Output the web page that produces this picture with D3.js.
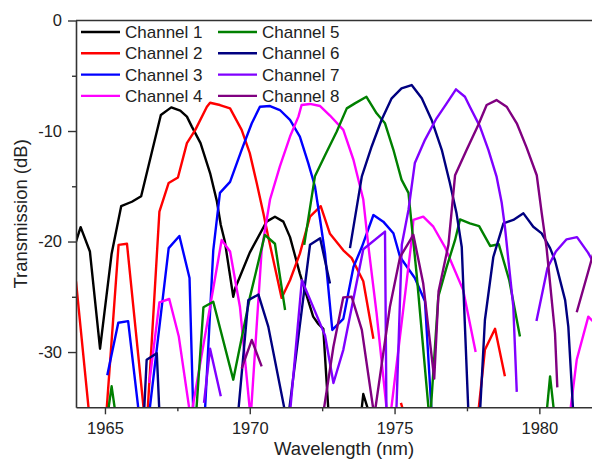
<!DOCTYPE html>
<html>
<head>
<meta charset="utf-8">
<script src="https://cdn.jsdelivr.net/npm/d3@7"></script>
<style>
  body { margin: 0; background: #fff; }
  svg { display: block; font-family: "Liberation Sans", Arial, sans-serif; }
</style>
</head>
<body>
<div id="chart"></div>
<script>
// Transmission spectra of 8 channels.
// Each series is a list of [wavelength nm, dB]; null marks a gap in the trace.
const channelNames = ["Channel 1", "Channel 2", "Channel 3", "Channel 4",
                      "Channel 5", "Channel 6", "Channel 7", "Channel 8"];
const channelColors = ["#000000", "#ff0000", "#0000ff", "#ff00ff",
                       "#008000", "#000080", "#8000ff", "#800080"];

const ch1 = [[1964.0,-20.0],[1964.16,-18.7],[1964.48,-20.9],[1964.83,-29.7],[1965.23,-21.1],[1965.56,-16.8],
  [1965.93,-16.4],[1966.25,-15.9],[1966.93,-8.55],[1967.29,-7.86],[1967.6,-8.16],[1967.83,-8.7],[1968.0,-9.6],
  [1968.3,-11.1],[1968.63,-13.8],[1968.86,-16.3],[1969.0,-18.5],[1969.14,-20.0],[1969.43,-25.0],[1969.5,-24.2],
  [1970.0,-21.0],[1970.58,-18.2],[1970.87,-17.75],[1971.16,-18.2],[1971.39,-19.6],[1971.73,-22.9],[1972.19,-26.8],
  [1972.35,-27.4],[1972.54,-27.9],[1972.72,-35.5],null,[1973.85,-35.5],[1973.92,-33.8],[1974.12,-35.5]];

const ch2 = [[1964.0,-23.6],[1964.45,-35.5],null,[1965.05,-35.5],[1965.47,-20.3],[1965.76,-20.2],[1966.35,-35.5],null,
  [1966.47,-35.5],[1966.88,-17.3],[1967.2,-14.7],[1967.52,-14.2],[1967.83,-11.1],[1968.12,-9.9],[1968.52,-7.8],
  [1968.63,-7.44],[1968.97,-7.65],[1969.32,-7.95],[1969.72,-9.9],[1970.0,-12.0],[1970.24,-14.7],[1970.47,-17.45],
  [1970.64,-19.6],[1971.1,-25.1],[1971.39,-23.5],[1971.73,-21.1],[1972.08,-17.75],[1972.45,-16.8],[1972.77,-19.3],
  [1973.23,-20.8],[1973.52,-21.5],[1973.92,-23.6],[1974.27,-28.8],null,[1975.22,-34.6],[1975.32,-35.5],null,
  [1977.89,-35.5],[1978.12,-29.8],[1978.47,-27.9],[1978.81,-32.2]];

const ch3 = [[1965.08,-32.1],[1965.46,-27.35],[1965.8,-27.2],[1966.17,-35.5],null,[1966.53,-35.5],[1967.2,-20.6],
  [1967.57,-19.5],[1967.92,-23.3],[1968.05,-35.5],null,[1968.45,-35.5],[1968.74,-20.8],[1968.97,-15.6],[1969.32,-14.6],
  [1969.72,-11.7],[1970.07,-9.3],[1970.35,-7.8],[1970.7,-7.74],[1971.04,-8.1],[1971.39,-9.0],[1971.73,-10.5],
  [1972.02,-12.9],[1972.25,-15.0],[1972.43,-18.05],[1972.6,-21.1],[1972.85,-28.0],[1973.23,-27.0],[1973.58,-22.3],
  [1973.87,-20.5],[1974.27,-17.6],[1974.61,-18.2],[1974.96,-19.25],[1975.19,-21.4],[1975.7,-23.3],[1976.05,-25.4],
  [1976.28,-35.5]];

const ch4 = [[1966.53,-32.8],[1966.88,-25.5],[1967.22,-25.2],[1967.55,-28.6],[1967.96,-36.0],[1969.03,-19.86],
  [1969.32,-20.9],[1969.66,-25.9],[1970.03,-36.0],[1970.41,-20.8],[1970.7,-16.2],[1971.04,-13.2],[1971.39,-10.5],
  [1971.68,-8.7],[1971.79,-7.65],[1972.08,-7.55],[1972.43,-7.74],[1972.77,-8.6],[1973.23,-9.9],[1973.58,-12.6],
  [1973.92,-16.2],[1974.1,-20.5],[1974.38,-26.5],[1974.8,-37.0],[1975.59,-19.86],[1975.65,-18.05],[1975.99,-17.75],
  [1976.34,-18.66],[1976.74,-20.5],[1977.03,-22.3],[1977.37,-24.4],[1977.8,-30.0],null,[1981.06,-35.5],
  [1981.29,-30.7],[1981.69,-26.8],[1982.0,-27.6]];

const ch5 = [[1965.1,-35.5],[1965.23,-33.1],[1965.36,-35.5],null,[1968.15,-35.5],[1968.4,-25.95],[1968.74,-25.45],
  [1969.43,-32.5],[1970.0,-25.1],[1970.52,-19.4],[1970.87,-20.2],[1971.22,-26.2],null,[1971.88,-20.3],
  [1972.25,-14.1],[1972.6,-12.2],[1973.0,-10.06],[1973.35,-7.95],[1973.63,-7.5],[1974.03,-6.9],[1974.38,-8.4],
  [1974.67,-9.3],[1974.96,-11.7],[1975.24,-14.4],[1975.48,-15.6],[1975.76,-22.9],[1976.22,-36.5],[1976.51,-25.0],
  [1976.8,-22.3],[1977.09,-19.86],[1977.26,-18.0],[1977.6,-18.35],[1977.92,-18.6],[1978.3,-20.4],[1978.6,-20.25],
  [1978.96,-23.5],[1979.33,-28.6],null,[1980.25,-35.5],[1980.37,-32.2],[1980.51,-35.5]];

const ch6 = [[1966.35,-35.5],[1966.44,-30.7],[1966.79,-30.1],[1966.88,-35.5],null,[1969.6,-35.5],[1969.95,-25.3],
  [1970.3,-24.8],[1970.64,-27.7],[1971.3,-36.5],[1972.08,-20.3],[1972.43,-19.7],[1972.77,-23.8],null,
  [1973.46,-20.6],[1973.87,-14.1],[1974.21,-11.4],[1974.55,-9.0],[1974.9,-7.04],[1975.24,-6.14],[1975.59,-5.84],
  [1975.94,-7.04],[1976.28,-9.0],[1976.63,-11.7],[1976.91,-14.7],[1977.14,-17.45],[1977.32,-20.5],[1977.55,-35.5],
  null,[1977.95,-35.5],[1978.12,-27.1],[1978.41,-21.4],[1978.76,-18.35],[1979.1,-18.05],[1979.45,-17.45],
  [1979.79,-18.66],[1980.08,-19.26],[1980.37,-20.6],[1980.54,-21.7],[1980.89,-25.3],[1981.0,-27.7],[1981.17,-35.5]];

const ch7 = [[1968.42,-34.6],[1968.63,-29.7],[1969.0,-34.0],null,[1971.39,-35.5],[1971.8,-23.5],[1972.25,-26.3],
  [1972.6,-28.5],[1972.89,-32.8],[1973.23,-29.8],[1973.92,-20.7],[1974.67,-19.1],[1974.72,-35.5],null,
  [1975.06,-35.5],[1975.25,-20.3],[1975.48,-17.15],[1975.7,-12.9],[1976.05,-10.8],[1976.45,-8.85],[1976.8,-7.5],
  [1977.12,-6.23],[1977.43,-6.9],[1977.6,-7.8],[1977.95,-9.6],[1978.24,-11.7],[1978.52,-14.1],[1978.7,-16.5],
  [1978.81,-18.66],[1979.1,-25.9],[1979.22,-33.6],null,[1979.9,-27.2],[1980.28,-22.4],[1980.57,-20.9],
  [1980.94,-19.8],[1981.3,-19.6],[1981.68,-21.0],[1982.0,-22.5]];

const ch8 = [[1969.72,-31.5],[1970.07,-28.9],[1970.41,-31.3],null,[1972.54,-35.5],[1972.89,-29.5],[1973.23,-25.05],
  [1973.52,-25.0],[1973.87,-28.0],[1974.3,-35.8],[1974.84,-25.9],[1975.19,-21.4],[1975.65,-19.4],[1975.99,-23.8],
  [1976.37,-32.4],[1976.52,-24.5],[1976.86,-20.3],[1977.09,-14.0],[1977.49,-11.7],[1977.89,-9.45],[1978.18,-7.65],
  [1978.52,-7.2],[1978.87,-7.8],[1979.22,-9.3],[1979.56,-11.5],[1979.91,-14.0],[1980.08,-17.4],[1980.25,-20.6],
  [1980.54,-28.3],[1980.62,-33.2],null,[1981.29,-26.4],[1981.7,-22.6],[1982.0,-19.8]];

const series = [ch1, ch2, ch3, ch4, ch5, ch6, ch7, ch8];

const xMajor = [1965, 1970, 1975, 1980];
const xMinor = [1967.5, 1972.5, 1977.5];
const yMajor = [0, -10, -20, -30];
const yMinor = [-5, -15, -25];

const W = 592, H = 461;
const plot = { left: 76, top: 20.5, bottom: 407.3, right: 592 };

const svg = d3.select("#chart").append("svg")
  .attr("width", W).attr("height", H);

const x = d3.scaleLinear().domain([1964, 1982]).range([plot.left, plot.left + 18 * 28.96]);
const y = d3.scaleLinear().domain([-35, 0]).range([plot.bottom, plot.top]);

svg.append("clipPath").attr("id", "clip")
  .append("rect")
  .attr("x", plot.left).attr("y", plot.top)
  .attr("width", plot.right - plot.left).attr("height", plot.bottom - plot.top);

// traces
const line = d3.line()
  .defined(d => d !== null)
  .x(d => x(d[0]))
  .y(d => y(d[1]));

const traces = svg.append("g").attr("clip-path", "url(#clip)");
series.forEach((s, i) => {
  traces.append("path")
    .attr("d", line(s))
    .attr("fill", "none")
    .attr("stroke", channelColors[i])
    .attr("stroke-width", 2.4)
    .attr("stroke-linejoin", "round");
});

// axes
const axisColor = "#333";
const styleAxis = g => {
  g.select(".domain").attr("stroke", axisColor).attr("stroke-width", 1.6);
  g.selectAll(".tick line").attr("stroke", axisColor).attr("stroke-width", 1.4);
  g.selectAll(".tick text").attr("fill", "#222").attr("font-size", 16.5)
    .attr("font-family", "Liberation Sans, Arial, sans-serif");
};

svg.append("g")
  .attr("transform", `translate(0,${plot.bottom})`)
  .call(d3.axisBottom(x).tickValues(xMajor).tickSize(7).tickSizeOuter(0).tickPadding(8).tickFormat(d3.format("d")))
  .call(styleAxis);
svg.append("g")
  .attr("transform", `translate(0,${plot.bottom})`)
  .call(d3.axisBottom(x).tickValues(xMinor).tickSize(4).tickFormat(""))
  .call(g => g.select(".domain").remove())
  .call(styleAxis);

svg.append("g")
  .attr("transform", `translate(${plot.left},0)`)
  .call(d3.axisLeft(y).tickValues(yMajor).tickSize(8).tickSizeOuter(0).tickPadding(6).tickFormat(d => String(d)))
  .call(styleAxis);
svg.append("g")
  .attr("transform", `translate(${plot.left},0)`)
  .call(d3.axisLeft(y).tickValues(yMinor).tickSize(4).tickFormat(""))
  .call(g => g.select(".domain").remove())
  .call(styleAxis);

// top frame
svg.append("line")
  .attr("x1", plot.left).attr("x2", plot.right)
  .attr("y1", plot.top).attr("y2", plot.top)
  .attr("stroke", axisColor).attr("stroke-width", 1.6);

// axis titles
svg.append("text")
  .attr("x", 344).attr("y", 455)
  .attr("text-anchor", "middle")
  .attr("font-size", 18.5).attr("fill", "#222")
  .text("Wavelength (nm)");
svg.append("text")
  .attr("transform", `translate(27,${(plot.top + plot.bottom) / 2}) rotate(-90)`)
  .attr("text-anchor", "middle")
  .attr("font-size", 18.5).attr("fill", "#222")
  .text("Transmission (dB)");

// legend, two columns of four
const legend = svg.append("g");
channelNames.forEach((name, i) => {
  const col = Math.floor(i / 4), row = i % 4;
  const gx = col === 0 ? 81 : 218;
  const gy = 32 + row * 21.3;
  const g = legend.append("g").attr("transform", `translate(${gx},${gy})`);
  g.append("line").attr("x1", 0).attr("x2", 39).attr("y1", 0).attr("y2", 0)
    .attr("stroke", channelColors[i]).attr("stroke-width", 2.4);
  g.append("text").attr("x", 44).attr("y", 0).attr("dy", "0.35em")
    .attr("font-size", 17).attr("fill", "#222")
    .text(name);
});
</script>
</body>
</html>
